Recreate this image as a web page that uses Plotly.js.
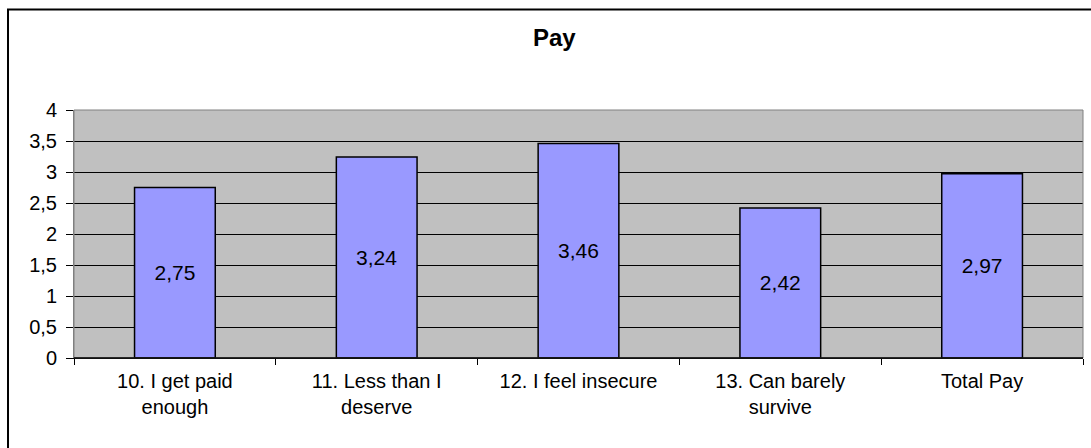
<!DOCTYPE html>
<html>
<head>
<meta charset="utf-8">
<script src="https://cdn.plot.ly/plotly-3.0.1.min.js"></script>
<style>
  html, body { margin: 0; padding: 0; background: #fff; }
  #chart { width: 1091px; height: 448px; }
</style>
</head>
<body>
<div id="chart"></div>
<script>
const categories = [
  "10. I get paid<br>enough",
  "11. Less than I<br>deserve",
  "12. I feel insecure",
  "13. Can barely<br>survive",
  "Total Pay"
];
const values = [2.75, 3.24, 3.46, 2.42, 2.97];
const yTickVals = [0, 0.5, 1, 1.5, 2, 2.5, 3, 3.5, 4];
const chartTitle = "Pay";

const FONT = '"Liberation Sans", Arial, sans-serif';

const trace = {
  type: 'bar',
  x: categories,
  y: values,
  width: 0.4,
  marker: { color: '#9999FF', line: { color: '#000000', width: 1.5 } },
  texttemplate: '%{y:.2f}',
  textposition: 'inside',
  insidetextanchor: 'middle',
  textangle: 0,
  constraintext: 'none',
  textfont: { family: FONT, size: 21, color: '#000000' },
  hoverinfo: 'skip'
};

const layout = {
  width: 1091,
  height: 448,
  margin: { l: 74, r: 8, t: 110, b: 90 },
  paper_bgcolor: '#ffffff',
  plot_bgcolor: '#C0C0C0',
  separators: ', ',
  showlegend: false,
  font: { family: FONT, size: 20, color: '#000000' },
  title: {
    text: '<b>' + chartTitle + '</b>',
    font: { family: FONT, size: 24, color: '#000000' },
    xref: 'container', x: 0.508, xanchor: 'center',
    yref: 'container', y: 0.915, yanchor: 'middle'
  },
  bargap: 0.6,
  xaxis: {
    type: 'category',
    tickson: 'boundaries',
    ticks: 'outside',
    ticklen: 6,
    tickcolor: '#000000',
    tickwidth: 1,
    ticklabelstandoff: 5,
    showline: true,
    linecolor: '#000000',
    linewidth: 1,
    showgrid: false,
    tickfont: { family: FONT, size: 20, color: '#000000' },
    fixedrange: true
  },
  yaxis: {
    range: [0, 4],
    tickvals: yTickVals,
    ticks: 'outside',
    ticklen: 7,
    tickcolor: '#000000',
    ticklabelstandoff: 5,
    showline: true,
    linecolor: '#808080',
    linewidth: 1,
    showgrid: true,
    gridcolor: '#000000',
    gridwidth: 1,
    zeroline: false,
    tickfont: { family: FONT, size: 20, color: '#000000' },
    fixedrange: true
  },
  shapes: [
    {
      type: 'rect', xref: 'paper', yref: 'paper',
      x0: 0, x1: 1, y0: 0, y1: 1,
      line: { color: '#808080', width: 1 }, fillcolor: 'rgba(0,0,0,0)',
      layer: 'above'
    },
    {
      type: 'line', xref: 'paper', yref: 'paper',
      x0: 0, x1: 1, y0: 0, y1: 0,
      line: { color: '#000000', width: 1.5 }, layer: 'above'
    },
    {
      type: 'rect', xref: 'paper', yref: 'paper',
      x0: -0.0654, x1: 1.04, y0: -0.45, y1: 1.405,
      line: { color: '#000000', width: 2 }, fillcolor: 'rgba(0,0,0,0)',
      layer: 'above'
    }
  ]
};

Plotly.newPlot('chart', [trace], layout, { displayModeBar: false, staticPlot: true });
</script>
</body>
</html>
